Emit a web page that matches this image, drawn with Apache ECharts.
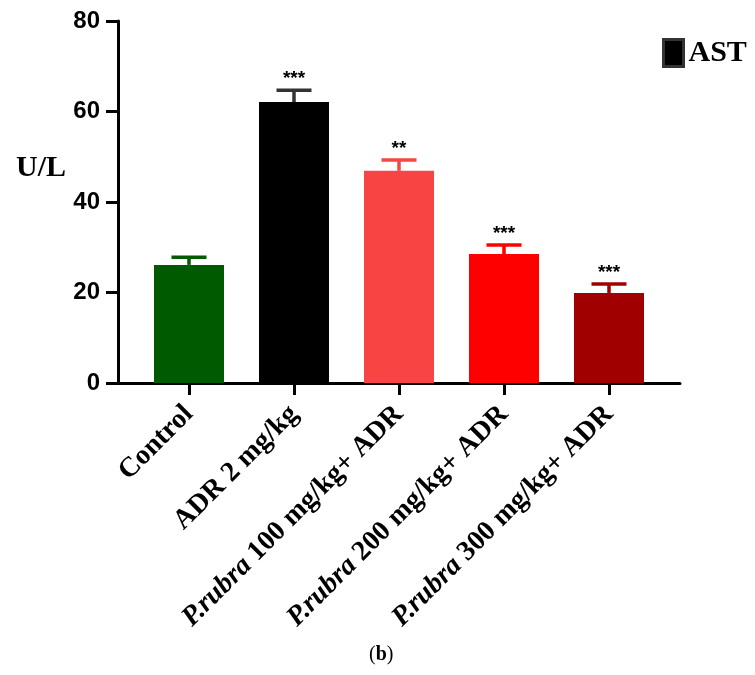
<!DOCTYPE html>
<html>
<head>
<meta charset="utf-8">
<script src="https://cdn.jsdelivr.net/npm/echarts@6/dist/echarts.min.js"></script>
<style>html,body{margin:0;padding:0;background:#fff;}#c{width:755px;height:675px;}</style>
</head>
<body>
<div id="c"></div>
<script>
const categories = ['Control', 'ADR 2 mg/kg', 'P.rubra 100 mg/kg+ ADR', 'P.rubra 200 mg/kg+ ADR', 'P.rubra 300 mg/kg+ ADR'];
const means = [26.1, 62.1, 46.9, 28.5, 19.9];
const errUpper = [27.8, 64.7, 49.3, 30.5, 21.9];
const stars = ['', '***', '**', '***', '***'];
const barColors = ['#005a00', '#000000', '#f94444', '#ff0000', '#a00000'];
const errColors = ['#005a00', '#333333', '#f94444', '#ff0000', '#a00000'];
const yTicks = [0, 20, 40, 60, 80];
const seriesName = 'AST';

const serif = 'Liberation Serif, Times New Roman, serif';
const sans = 'Liberation Sans, Arial, sans-serif';

const chart = echarts.init(document.getElementById('c'), null, {renderer: 'canvas'});
const option = {
  backgroundColor: '#fff',
  animation: false,
  grid: [
    {left: 118, top: 21, width: 562, height: 362},
    {left: 136.5, top: 21, width: 525, height: 362}
  ],
  legend: {
    left: 657, top: 33,
    itemWidth: 20, itemHeight: 27, itemGap: 11,
    icon: 'rect',
    data: [{name: seriesName, itemStyle: {color: '#000', borderColor: '#333', borderWidth: 3}}],
    textStyle: {fontFamily: serif, fontWeight: 'bold', fontSize: 30, color: '#000'}
  },
  xAxis: [
    {gridIndex: 0, type: 'category', data: [''],
     axisLine: {show: true, lineStyle: {color: '#000', width: 3}},
     axisTick: {show: false}, axisLabel: {show: false}, splitLine: {show: false}},
    {gridIndex: 1, type: 'category', data: categories, boundaryGap: true,
     axisLine: {show: false},
     axisTick: {show: true, alignWithLabel: true, length: 12, lineStyle: {color: '#000', width: 3}},
     axisLabel: {
       rotate: 45, margin: 27, interval: 0,
       fontFamily: serif, fontWeight: 'bold', fontSize: 28, color: '#000',
       formatter: function (v) {
         if (v.indexOf('P.rubra') === 0) return '{i|P.rubra}' + v.slice(7);
         return v;
       },
       rich: {i: {fontFamily: serif, fontWeight: 'bold', fontStyle: 'italic', fontSize: 28, color: '#000'}}
     }}
  ],
  yAxis: [
    {gridIndex: 0, type: 'value', min: yTicks[0], max: yTicks[yTicks.length - 1], interval: 20,
     axisLine: {show: true, lineStyle: {color: '#000', width: 3}},
     axisTick: {show: true, length: 12, lineStyle: {color: '#000', width: 3}},
     axisLabel: {margin: 18, fontFamily: sans, fontWeight: 'bold', fontSize: 24, color: '#000'},
     splitLine: {show: false}},
    {gridIndex: 1, type: 'value', min: yTicks[0], max: yTicks[yTicks.length - 1], show: false}
  ],
  graphic: [
    {type: 'text', left: 16, top: 153, style: {text: 'U/L', fontFamily: serif, fontWeight: 'bold', fontSize: 30, fill: '#000'}},
    {type: 'text', left: 369, top: 645, style: {text: '({b|b})', fontFamily: serif, fontSize: 20, fill: '#000',
      rich: {b: {fontFamily: serif, fontWeight: 'bold', fontSize: 20, fill: '#000'}}}}
  ],
  series: [
    {
      name: seriesName, type: 'bar', xAxisIndex: 1, yAxisIndex: 1,
      barWidth: 70,
      itemStyle: {color: '#000'},
      data: means.map((v, i) => ({value: v, itemStyle: {color: barColors[i]}})),
      z: 3
    },
    {
      type: 'custom', xAxisIndex: 1, yAxisIndex: 1, z: 2,
      data: means.map((v, i) => [i, v, errUpper[i]]),
      renderItem: function (params, api) {
        const i = api.value(0);
        const top = api.coord([i, api.value(1)]);
        const up = api.coord([i, api.value(2)]);
        const col = errColors[i];
        const half = 17.5;
        const children = [
          {type: 'line', shape: {x1: top[0], y1: top[1], x2: up[0], y2: up[1]}, style: {stroke: col, lineWidth: 3.5}},
          {type: 'line', shape: {x1: up[0] - half, y1: up[1], x2: up[0] + half, y2: up[1]}, style: {stroke: col, lineWidth: 3.5}}
        ];
        if (stars[i]) {
          children.push({type: 'text', x: up[0], y: up[1] - 2,
            style: {text: stars[i], fontFamily: sans, fontWeight: 'bold', fontSize: 19, fill: '#000', align: 'center', verticalAlign: 'bottom'}});
        }
        return {type: 'group', children: children};
      }
    }
  ]
};
chart.setOption(option);
</script>
</body>
</html>
